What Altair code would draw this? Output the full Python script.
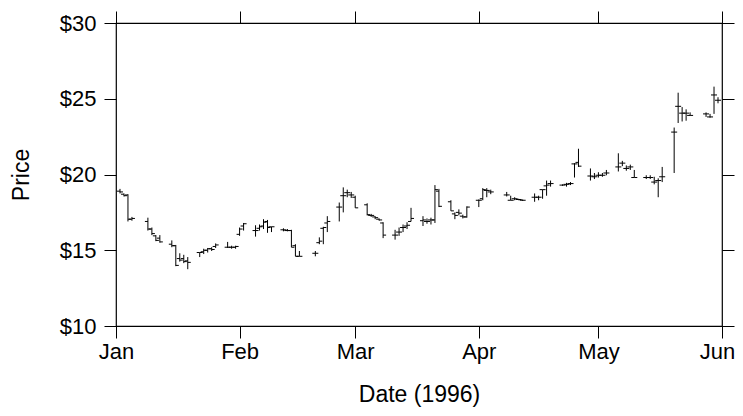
import altair as alt
import pandas as pd

dates = [
    "1996-01-02", "1996-01-03", "1996-01-04", "1996-01-05",
    "1996-01-09", "1996-01-10", "1996-01-11", "1996-01-12",
    "1996-01-15", "1996-01-16", "1996-01-17", "1996-01-18", "1996-01-19",
    "1996-01-22", "1996-01-23", "1996-01-24", "1996-01-25", "1996-01-26",
    "1996-01-29", "1996-01-30", "1996-01-31", "1996-02-01", "1996-02-02",
    "1996-02-05", "1996-02-06", "1996-02-07", "1996-02-08", "1996-02-09",
    "1996-02-12", "1996-02-13", "1996-02-14", "1996-02-15", "1996-02-16",
    "1996-02-20", "1996-02-21", "1996-02-22", "1996-02-23",
    "1996-02-26", "1996-02-27", "1996-02-28", "1996-02-29", "1996-03-01",
    "1996-03-04", "1996-03-05", "1996-03-06", "1996-03-07", "1996-03-08",
    "1996-03-11", "1996-03-12", "1996-03-13", "1996-03-14", "1996-03-15",
    "1996-03-18", "1996-03-19", "1996-03-20", "1996-03-21", "1996-03-22",
    "1996-03-25", "1996-03-26", "1996-03-27", "1996-03-28", "1996-03-29",
    "1996-04-01", "1996-04-02", "1996-04-03", "1996-04-04",
    "1996-04-08", "1996-04-09", "1996-04-10", "1996-04-11", "1996-04-12",
    "1996-04-15", "1996-04-16", "1996-04-17", "1996-04-18", "1996-04-19",
    "1996-04-22", "1996-04-23", "1996-04-24", "1996-04-25", "1996-04-26",
    "1996-04-29", "1996-04-30", "1996-05-01", "1996-05-02", "1996-05-03",
    "1996-05-06", "1996-05-07", "1996-05-08", "1996-05-09", "1996-05-10",
    "1996-05-13", "1996-05-14", "1996-05-15", "1996-05-16", "1996-05-17",
    "1996-05-20", "1996-05-21", "1996-05-22", "1996-05-23", "1996-05-24",
    "1996-05-28", "1996-05-29", "1996-05-30", "1996-05-31",
]

open_ = [
    18.90, 18.70, 18.65, 17.05,
    16.90, 16.40, 15.95, 15.80,
    15.40, 15.30, 14.45, 14.45, 14.30,
    14.85, 14.90, 15.00, 15.10, 15.25,
    15.20, 15.20, 15.20, 16.05, 16.60,
    16.30, 16.45, 16.60, 16.90, 16.55,
    16.35, 16.30, 16.30, 15.30, 14.60,
    14.80, 15.50, 16.45, 16.80,
    17.85, 18.60, 18.80, 18.65, 18.50,
    18.00, 17.30, 17.20, 17.05, 16.80,
    16.00, 16.20, 16.50, 16.60, 16.90,
    16.95, 16.90, 17.00, 17.00, 18.90,
    18.20, 17.40, 17.50, 17.25, 17.20,
    18.30, 18.40, 18.95, 18.85,
    18.65, 18.30, 18.40, 18.35, 18.30,
    18.50, 18.50, 19.00, 19.25, 19.40,
    19.30, 19.35, 19.40, 20.70, 20.80,
    19.90, 19.85, 19.95, 19.95, 20.10,
    20.50, 20.75, 20.40, 20.50, 19.80,
    19.80, 19.80, 19.50, 19.60, 19.85,
    22.80, 24.50, 24.05, 24.05, 23.90,
    24.00, 23.80, 25.25, 24.90,
]

high = [
    19.05, 18.75, 18.70, 17.20,
    17.15, 16.50, 16.00, 16.00,
    15.65, 15.35, 14.80, 14.70, 14.55,
    14.85, 15.10, 15.15, 15.20, 15.45,
    15.55, 15.30, 15.30, 16.50, 16.80,
    16.65, 16.70, 17.05, 17.00, 16.55,
    16.45, 16.40, 16.35, 15.40, 14.95,
    14.95, 15.85, 16.55, 17.25,
    18.15, 19.15, 19.00, 18.85, 18.60,
    18.10, 17.40, 17.25, 17.10, 16.85,
    16.35, 16.50, 16.70, 16.85, 17.80,
    17.25, 17.10, 17.15, 19.30, 19.05,
    18.30, 17.50, 17.70, 17.35, 17.90,
    18.35, 19.10, 19.10, 19.00,
    18.85, 18.60, 18.50, 18.40, 18.35,
    18.75, 18.60, 19.00, 19.60, 19.60,
    19.35, 19.45, 19.50, 20.75, 21.70,
    20.40, 20.10, 20.15, 20.10, 20.30,
    21.40, 20.90, 20.60, 20.65, 20.30,
    19.95, 19.95, 19.85, 19.75, 20.50,
    23.10, 25.40, 24.45, 24.30, 24.10,
    24.10, 24.00, 25.80, 25.10,
]

low = [
    18.75, 18.55, 16.90, 16.95,
    16.30, 16.00, 15.60, 15.50,
    15.20, 13.95, 14.25, 14.15, 13.75,
    14.55, 14.75, 14.85, 14.95, 15.15,
    15.15, 15.10, 15.10, 15.95, 16.30,
    15.90, 16.30, 16.40, 16.15, 16.20,
    16.25, 16.25, 15.20, 14.60, 14.60,
    14.60, 15.40, 15.40, 16.20,
    16.90, 17.50, 18.50, 18.45, 17.80,
    17.30, 17.20, 17.05, 16.95, 15.80,
    15.70, 15.95, 16.20, 16.40, 16.90,
    16.60, 16.75, 16.70, 16.80, 17.85,
    17.60, 17.05, 17.30, 17.10, 17.15,
    17.85, 18.30, 18.50, 18.70,
    18.55, 18.30, 18.30, 18.30, 18.25,
    18.20, 18.30, 18.40, 18.60, 19.20,
    19.25, 19.20, 19.30, 19.80, 20.50,
    19.60, 19.70, 19.80, 19.85, 19.95,
    20.20, 20.55, 20.25, 20.30, 19.80,
    19.70, 19.70, 19.35, 18.50, 19.50,
    20.10, 23.40, 23.50, 23.55, 23.90,
    23.80, 23.75, 24.00, 24.70,
]

close = [
    18.85, 18.60, 17.05, 17.10,
    16.40, 16.10, 15.65, 15.55,
    15.30, 14.00, 14.35, 14.25, 14.20,
    14.85, 15.00, 15.10, 15.05, 15.35,
    15.20, 15.20, 15.25, 16.40, 16.75,
    16.30, 16.55, 16.85, 16.50, 16.55,
    16.35, 16.30, 15.20, 14.60, 14.60,
    14.80, 15.60, 16.50, 16.90,
    17.85, 18.60, 18.80, 18.65, 17.80,
    17.35, 17.30, 17.15, 17.00, 16.00,
    16.00, 16.20, 16.50, 16.65, 17.10,
    17.00, 16.90, 17.00, 19.00, 17.90,
    17.60, 17.30, 17.45, 17.20, 17.85,
    18.30, 19.00, 18.95, 18.85,
    18.65, 18.30, 18.40, 18.35, 18.30,
    18.50, 18.50, 19.00, 19.30, 19.40,
    19.30, 19.35, 19.40, 20.70, 20.55,
    19.90, 19.85, 19.95, 19.95, 20.10,
    20.50, 20.75, 20.40, 20.50, 19.80,
    19.80, 19.80, 19.50, 19.60, 19.85,
    22.80, 24.50, 24.05, 24.05, 23.90,
    24.00, 23.80, 25.25, 24.90,
]

y_ticks = [10, 15, 20, 25, 30]
month_starts = [1, 2, 3, 4, 5, 6]

df = pd.DataFrame({"date": dates, "open": open_, "high": high, "low": low, "close": close})

FONT = "Liberation Sans"
FS = 22
TFS = 23

x_scale = alt.Scale(
    type="utc",
    domain=[alt.DateTime(year=1996, month=1, date=1, utc=True),
            alt.DateTime(year=1996, month=6, date=1, utc=True)],
    nice=False,
)
y_scale = alt.Scale(domain=[10, 30], nice=False, zero=False)
x_vals = [alt.DateTime(year=1996, month=m, date=1, utc=True) for m in month_starts]

common_axis = dict(
    domain=False, ticks=True, tickColor="black", tickWidth=1, tickSize=12,
    labelFont=FONT, labelFontSize=FS, labelColor="black", grid=False,
    titleFont=FONT, titleFontSize=TFS, titleFontWeight="normal", titleColor="black",
    labelFlush=False,
)

x_bottom = alt.X("date:T", scale=x_scale,
                 axis=alt.Axis(orient="bottom", values=x_vals,
                               labelExpr="utcFormat(datum.value, '%b')",
                               labelOffset={"condition": {"test": "utcmonth(datum.value) == 5", "value": -5},
                                            "value": 0},
                               title="Date (1996)", labelPadding=3, titlePadding=21, **common_axis))
x_top = alt.X("date:T", scale=x_scale,
              axis=alt.Axis(orient="top", values=x_vals, labels=False, title=None, **common_axis))
y_left = alt.Y("low:Q", scale=y_scale,
               axis=alt.Axis(orient="left", values=y_ticks, format="$.0f", title="Price",
                             labelPadding=8, titlePadding=26, **common_axis))
y_right = alt.Y("open:Q", scale=y_scale,
                axis=alt.Axis(orient="right", values=y_ticks, labels=False, title=None, **common_axis))

base = alt.Chart(df)

hl = base.mark_rule(color="black", strokeWidth=1).encode(
    x=x_bottom, y=y_left, y2="high:Q")

op = base.mark_rule(color="black", strokeWidth=1, xOffset=-3).encode(
    x=x_top, x2="date:T", y=y_right)

cl = base.mark_rule(color="black", strokeWidth=1, x2Offset=3).encode(
    x=alt.X("date:T", scale=x_scale, axis=None), x2="date:T",
    y=alt.Y("close:Q", scale=y_scale, axis=None))

chart = alt.layer(hl, op, cl).resolve_axis(x="independent", y="independent").properties(
    width=606, height=303,
    autosize=alt.AutoSizeParams(type="none"),
    padding={"left": 108, "top": 15, "right": 13, "bottom": 85},
).configure_view(stroke="black", strokeWidth=1.2)

chart.save("out.html", embed_options={"renderer": "svg", "actions": False})
